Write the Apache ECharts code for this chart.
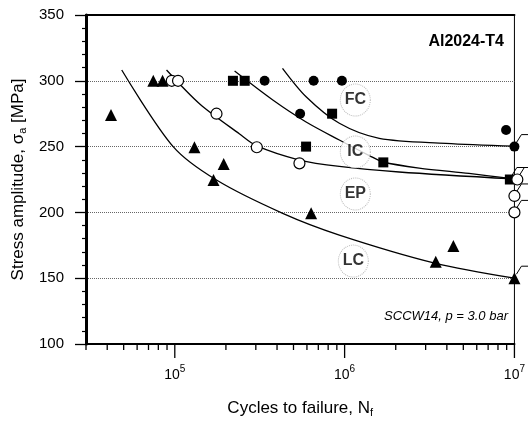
<!DOCTYPE html>
<html>
<head>
<meta charset="utf-8">
<script src="https://cdn.jsdelivr.net/npm/echarts@6/dist/echarts.min.js"></script>
<style>
html,body{margin:0;padding:0;background:#fff;}
#chart{width:528px;height:426px;}
</style>
</head>
<body>
<div id="chart"></div>
<script>
// ---- data ----
const lcFailures = [[42100,274],[74700,300],[84700,300],[130500,249.5],[169000,224.6],[194000,236.8],[635000,199.3],[3440000,162.5],[4370000,174.5]];
const lcRunouts  = [[10000000,150]];
const epFailures = [[96000,300],[104500,300],[176000,275],[304000,249.5],[542000,237.3]];
const epRunouts  = [[10400000,225],[10000000,212.5],[10000000,200]];
const icFailures = [[220000,300],[258000,300],[844000,275],[593000,250],[1690000,238]];
const icRunouts  = [[9400000,225]];
const fcFailures = [[338000,300],[657000,300],[964000,300],[547000,275],[8930000,262.6]];
const fcRunouts  = [[10000000,250]];

const lcCurve = [[48700,308.2],[97800,250],[176000,224.6],[432000,199.3],[931000,182.8],[3440000,161.3],[10000000,150]];
const epCurve = [[89400,308.2],[140300,282.4],[240800,259.6],[304200,250.5],[542000,239.8],[931000,234.9],[2095000,230.7],[10000000,225.4]];
const icCurve = [[225000,307.4],[377700,285.4],[593200,268.7],[931000,255],[1396000,243.2],[1688000,238.3],[2745000,233.7],[5400000,229.6],[10000000,225.4]];
const fcCurve = [[430800,309.5],[593200,287.9],[931000,267.7],[1599000,256.3],[3940000,252.5],[10000000,250.3]];

const curveLabelNames = ['FC','IC','EP','LC'];
const curveLabelX = [1156000,1156000,1156000,1125000];
const curveLabelY = [285.4,245.9,214,163];

const xMinorTicks = [30000,40000,50000,60000,70000,80000,90000,200000,300000,400000,500000,600000,700000,800000,900000,2000000,3000000,4000000,5000000,6000000,7000000,8000000,9000000];
const xMajorTicks = [100000,1000000,10000000];
const yMin = 100, yMax = 350, yStep = 50;
const xMin = 30000, xMax = 10000000;

// ---- chart ----
const FONT = '"Liberation Sans", Arial, Helvetica, sans-serif';
const chart = echarts.init(document.getElementById('chart'), null, {renderer:'canvas'});

function tickSeries(values, len){
  return {
    type:'custom', silent:true, clip:false, z:5,
    data: values.map(v => [v, yMin]),
    renderItem: (params, api) => {
      const p = api.coord([api.value(0), api.value(1)]);
      return {type:'line', shape:{x1:p[0], y1:p[1], x2:p[0], y2:p[1]+len}, style:{stroke:'#000', lineWidth:1.3}};
    }
  };
}
function runoutSeries(values){
  return {
    type:'custom', silent:true, clip:false, z:6,
    data: values,
    renderItem: (params, api) => {
      const p = api.coord([api.value(0), api.value(1)]);
      return {type:'polyline', shape:{points:[[p[0]+2,p[1]-4],[p[0]+7,p[1]-12],[p[0]+20,p[1]-12]]}, style:{stroke:'#000', lineWidth:1, fill:null}};
    }
  };
}
function curveSeries(data){
  return {type:'line', data:data, showSymbol:false, smooth:0.3, silent:true, z:2,
    lineStyle:{color:'#000', width:1.3}};
}
function pointSeries(data, symbol, size, fill){
  return {type:'scatter', data:data, symbol:symbol, symbolSize:size, clip:false, z:10,
    itemStyle:{color:fill, borderColor:'#000', borderWidth: fill === '#fff' ? 1.2 : 0, opacity:1}};
}

const option = {
  animation:false,
  backgroundColor:'#fff',
  textStyle:{fontFamily:FONT},
  title:{text:'Al2024-T4', right:19, top:29, textStyle:{fontFamily:FONT, fontSize:16, fontWeight:'bold', color:'#000'}},
  graphic:[{type:'text', right:20, top:310, style:{text:'SCCW14, p = 3.0 bar', font:'italic 13px ' + FONT, fill:'#000'}}],
  grid:{left:86, right:13, top:15, bottom:82, show:true, borderColor:'#000', borderWidth:1, backgroundColor:'transparent'},
  xAxis:[{
    type:'log', logBase:10, min:xMin, max:xMax,
    axisLine:{show:true, lineStyle:{color:'#000', width:2}},
    axisTick:{show:false}, minorTick:{show:false}, splitLine:{show:false},
    axisLabel:{margin:20, color:'#000', fontFamily:FONT, showMinLabel:true, showMaxLabel:true,
      formatter: v => { const e = Math.round(Math.log10(v)); if (Math.abs(Math.log10(v) - e) > 1e-6) return ''; return '{b|10}{s|' + e + '}'; },
      rich:{b:{fontSize:14, fontFamily:FONT, color:'#000', verticalAlign:'bottom', lineHeight:18}, s:{fontSize:10, fontFamily:FONT, color:'#000', verticalAlign:'top', lineHeight:18}}},
    name:'Cycles to failure, N{sub|f}', nameLocation:'middle', nameGap:54,
    nameTextStyle:{fontSize:17, fontFamily:FONT, color:'#000', rich:{sub:{fontSize:11, fontFamily:FONT, color:'#000', verticalAlign:'bottom', padding:[9,0,0,0]}}}
  },{
    type:'log', logBase:10, min:xMin, max:xMax, position:'top',
    axisLine:{show:true, lineStyle:{color:'#000', width:2}},
    axisTick:{show:false}, axisLabel:{show:false}, splitLine:{show:false}
  }],
  yAxis:{
    type:'value', min:yMin, max:yMax, interval:yStep,
    axisLine:{show:true, lineStyle:{color:'#000', width:3}},
    axisTick:{show:true, inside:false, length:11, lineStyle:{color:'#000', width:1.3}},
    minorTick:{show:true, splitNumber:5, length:4, lineStyle:{color:'#000', width:1.2}},
    splitLine:{show:true, lineStyle:{type:'dotted', width:1, color:['rgba(0,0,0,0)','#666','#666','#666','#666','rgba(0,0,0,0)']}},
    axisLabel:{margin:22, fontSize:15, color:'#000', fontFamily:FONT},
    name:'Stress amplitude, σ{sub|a} [MPa]', nameLocation:'middle', nameGap:58, nameRotate:90,
    nameTextStyle:{fontSize:17, fontFamily:FONT, color:'#000', rich:{sub:{fontSize:11, fontFamily:FONT, color:'#000', verticalAlign:'bottom', padding:[9,0,0,0]}}}
  },
  series:[
    curveSeries(lcCurve), curveSeries(epCurve), curveSeries(icCurve), curveSeries(fcCurve),
    {type:'scatter', silent:true, z:8, symbol:'circle', symbolSize:[30,32],
      data: curveLabelNames.map((n,i) => ({name:n, value:[curveLabelX[i], curveLabelY[i]]})),
      itemStyle:{color:'#fff', borderColor:'#aaa', borderWidth:1, borderType:'dotted'},
      label:{show:true, position:'inside', formatter:'{b}', fontSize:16, fontWeight:'bold', color:'#000', fontFamily:FONT}},
    runoutSeries(lcRunouts), runoutSeries(epRunouts), runoutSeries(icRunouts), runoutSeries(fcRunouts),
    pointSeries(lcFailures.concat(lcRunouts), 'triangle', 12, '#000'),
    pointSeries(icFailures.concat(icRunouts), 'rect', 10, '#000'),
    pointSeries(fcFailures.concat(fcRunouts), 'circle', 10, '#000'),
    pointSeries(epFailures.concat(epRunouts), 'circle', 11, '#fff'),
    tickSeries(xMinorTicks, 6), tickSeries(xMajorTicks, 14)
  ]
};
chart.setOption(option);
</script>
</body>
</html>
